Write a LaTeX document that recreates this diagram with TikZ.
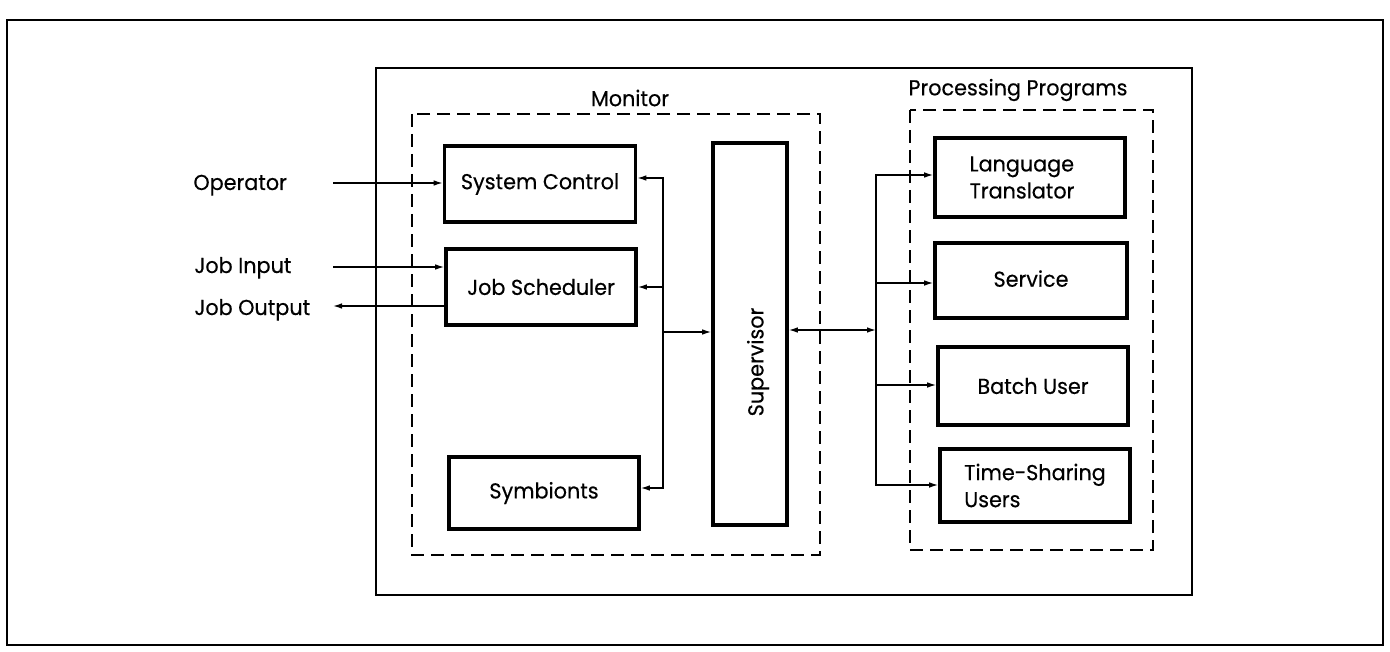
\documentclass[tikz,border=0pt]{standalone}
\usepackage{fontspec}
\setmainfont[FakeStretch=0.96,FakeBold=0.4]{Poppins}
\usetikzlibrary{arrows.meta}

\tikzset{
  frame/.style={draw, line width=1.2pt},
  innerframe/.style={draw, line width=1pt},
  group/.style={draw, line width=1.1pt, dash pattern=on 6.5pt off 3.5pt},
  unit/.style={draw, line width=1.8pt, inner sep=0pt, font=\fontsize{10.8}{13.5}\selectfont},
  label/.style={inner sep=0pt, font=\fontsize{10.8}{13.5}\selectfont},
  conn/.style={line width=0.7pt, arrows={-Latex[length=4.5pt,width=2.8pt]}},
  conn2/.style={line width=0.7pt, arrows={Latex[length=4.5pt,width=2.8pt]-Latex[length=4.5pt,width=2.8pt]}},
}

\begin{document}
\begin{tikzpicture}[x=0.5pt,y=-0.5pt]
\useasboundingbox (0,0) rectangle (1390,652);

% outer page frame and system frame
\draw[frame] (7,20) rectangle (1383,645);
\draw[innerframe] (376,68) rectangle (1192,595);

% functional groups
\draw[group] (412,114) rectangle (820,555);
\node[label] (montitle) at (630,98) {Monitor};
\draw[group] (910,110) rectangle (1153,550);
\node[label] (pptitle) at (1018,90) {Processing Programs};

% monitor units
\node[unit, minimum width=95.5pt, minimum height=38pt] (sc)  at (540,184) {System Control};
\node[unit, minimum width=95pt,   minimum height=38pt] (js)  at (541,287) {Job Scheduler};
\node[unit, minimum width=95pt,   minimum height=36pt] (sym) at (544,493) {Symbionts};
\node[unit, minimum width=37pt,   minimum height=191pt] (sup) at (750,334) {};
\node[label, rotate=90] (suptext) at (758,362) {Supervisor};

% processing programs
\node[unit, minimum width=95pt, minimum height=39.5pt, align=left] (lt)  at (1030,177.5) {Language\\Translator\hspace*{8pt}};
\node[unit, minimum width=96pt, minimum height=37.5pt] (svc) at (1031,280.5) {\raisebox{2pt}{Service}};
\node[unit, minimum width=95pt, minimum height=39pt]   (bu)  at (1033,386) {Batch User};
\node[unit, minimum width=95pt, minimum height=36.5pt, align=left] (tsu) at (1035,485.5) {Time-Sharing\\Users};

% external inputs and outputs
\node[label, anchor=base west] (oper) at (193,190) {Operator};
\node[label, anchor=base west] (jin)  at (194,273) {Job Input};
\node[label, anchor=base west] (jout) at (194,315) {Job Output};

\coordinate (opsrc)  at (333,183);
\coordinate (jinsrc) at (333,267);
\coordinate (joutdst) at (333,306);
\draw[conn] (opsrc) -- (opsrc -| sc.west);
\draw[conn] (jinsrc) -- (jinsrc -| js.west);
\draw[conn] (joutdst -| js.west) -- (joutdst);

% monitor bus
\coordinate (bl1) at (663,178);
\coordinate (bl2) at (663,287);
\coordinate (bl3) at (663,488);
\coordinate (bl4) at (663,332);
\draw[conn2] (sc.east |- bl1) -- (bl1) -- (bl3) -- (sym.east |- bl3);
\draw[conn] (bl2) -- (bl2 -| js.east);
\draw[conn] (bl4) -- (bl4 -| sup.west);

% supervisor to processing programs
\coordinate (br0) at (876,330);
\coordinate (br1) at (876,175);
\coordinate (br2) at (876,283);
\coordinate (br3) at (876,385);
\coordinate (br4) at (876,485);
\draw[conn2] (sup.east |- br0) -- (br0);
\draw[conn2] (lt.west |- br1) -- (br1) -- (br4) -- (tsu.west |- br4);
\draw[conn] (br2) -- (br2 -| svc.west);
\draw[conn] (br3) -- (br3 -| bu.west);
\end{tikzpicture}
\end{document}
